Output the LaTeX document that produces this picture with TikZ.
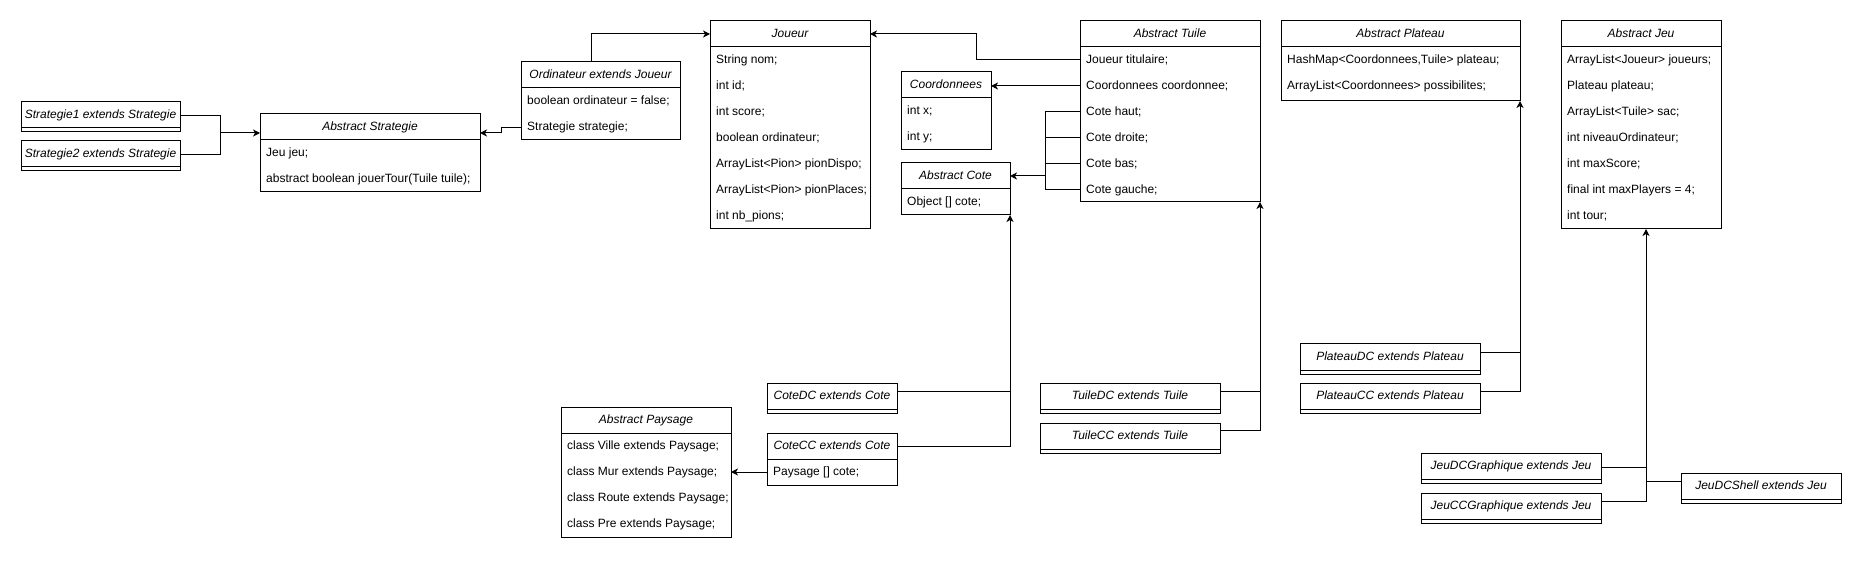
\documentclass[tikz,border=0pt]{standalone}
\usepackage{fontspec}
\setmainfont{Liberation Sans}
\usetikzlibrary{arrows.meta,calc}
\newcommand{\umlbox}[6]{%
  \node[box,minimum width=#4pt,minimum height=#5pt] (#1) at (#2,#3) {};
  \node[hdr] (#1-t) at ($(#1.north west)+(#4/2,13)$) {#6};
  \draw[line width=1pt] ($(#1.north west)+(0,26)$) -- ($(#1.north east)+(0,26)$);
}
\newcommand{\umlrow}[3]{\node[row] (#1-r#2) at ($(#1.north west)+(6,{13+26*#2})$) {#3};}
\begin{document}
\begin{tikzpicture}[x=1pt,y=-1pt,
  box/.style={draw=black,line width=1pt,anchor=north west,inner sep=0pt,outer sep=0pt},
  hdr/.style={font=\fontsize{12}{14}\selectfont\itshape,inner sep=0pt,text height=8.6pt,text depth=2.4pt},
  row/.style={font=\fontsize{12}{14}\selectfont,anchor=west,inner sep=0pt,text height=8.6pt,text depth=2.4pt},
  conn/.style={line width=1pt},
  arr/.style={line width=1pt,-{Stealth[length=7pt,width=7pt,inset=2pt]}}
]
\fill[white] (0,0) rectangle (1861,561);
\useasboundingbox (0,0) rectangle (1861,561);

% classes
\umlbox{s1}{21}{102}{159}{30}{Strategie1 extends Strategie}
\umlbox{s2}{21}{141}{159}{30}{Strategie2 extends Strategie}

\umlbox{strat}{260}{114}{220}{78}{Abstract Strategie}
\umlrow{strat}{1}{Jeu jeu;}
\umlrow{strat}{2}{abstract boolean jouerTour(Tuile tuile);}

\umlbox{ord}{521}{62}{159}{78}{Ordinateur extends Joueur}
\umlrow{ord}{1}{boolean ordinateur = false;}
\umlrow{ord}{2}{Strategie strategie;}

\umlbox{joueur}{710}{21}{160}{208}{Joueur}
\umlrow{joueur}{1}{String nom;}
\umlrow{joueur}{2}{int id;}
\umlrow{joueur}{3}{int score;}
\umlrow{joueur}{4}{boolean ordinateur;}
\umlrow{joueur}{5}{ArrayList<Pion> pionDispo;}
\umlrow{joueur}{6}{ArrayList<Pion> pionPlaces;}
\umlrow{joueur}{7}{int nb\_pions;}

\umlbox{tuile}{1080}{21}{180}{181}{Abstract Tuile}
\umlrow{tuile}{1}{Joueur titulaire;}
\umlrow{tuile}{2}{Coordonnees coordonnee;}
\umlrow{tuile}{3}{Cote haut;}
\umlrow{tuile}{4}{Cote droite;}
\umlrow{tuile}{5}{Cote bas;}
\umlrow{tuile}{6}{Cote gauche;}

\umlbox{coord}{901}{72}{90}{78}{Coordonnees}
\umlrow{coord}{1}{int x;}
\umlrow{coord}{2}{int y;}

\umlbox{cote}{901}{163}{109}{52}{Abstract Cote}
\umlrow{cote}{1}{Object [] cote;}

\umlbox{pays}{561}{407}{170}{130}{Abstract Paysage}
\umlrow{pays}{1}{class Ville extends Paysage;}
\umlrow{pays}{2}{class Mur extends Paysage;}
\umlrow{pays}{3}{class Route extends Paysage;}
\umlrow{pays}{4}{class Pre extends Paysage;}

\umlbox{cotedc}{767}{383}{130}{30}{CoteDC extends Cote}
\umlbox{cotecc}{767}{433}{130}{52}{CoteCC extends Cote}
\umlrow{cotecc}{1}{Paysage [] cote;}

\umlbox{tdc}{1040}{383}{180}{30}{TuileDC extends Tuile}
\umlbox{tcc}{1040}{423}{180}{30}{TuileCC extends Tuile}

\umlbox{plat}{1281}{21}{239}{80}{Abstract Plateau}
\umlrow{plat}{1}{HashMap<Coordonnees,Tuile> plateau;}
\umlrow{plat}{2}{ArrayList<Coordonnees> possibilites;}

\umlbox{jeu}{1561}{21}{160}{208}{Abstract Jeu}
\umlrow{jeu}{1}{ArrayList<Joueur> joueurs;}
\umlrow{jeu}{2}{Plateau plateau;}
\umlrow{jeu}{3}{ArrayList<Tuile> sac;}
\umlrow{jeu}{4}{int niveauOrdinateur;}
\umlrow{jeu}{5}{int maxScore;}
\umlrow{jeu}{6}{final int maxPlayers = 4;}
\umlrow{jeu}{7}{int tour;}

\umlbox{pdc}{1300}{344}{180}{30}{PlateauDC extends Plateau}
\umlbox{pcc}{1300}{383}{180}{30}{PlateauCC extends Plateau}

\umlbox{jdg}{1421}{453}{180}{30}{JeuDCGraphique extends Jeu}
\umlbox{jcg}{1421}{493}{180}{30}{JeuCCGraphique extends Jeu}
\umlbox{jds}{1681}{473}{160}{30}{JeuDCShell extends Jeu}

% connectors: Strategie
\coordinate (sj) at ($(strat.north west)+(-40,19)$);
\draw[arr] ($(s1.north east)+(0,14)$) -| (sj) -- ($(strat.north west)+(0,19)$);
\draw[conn] ($(s2.north east)+(0,14)$) -| (sj);

% Ordinateur -> Strategie, Ordinateur -> Joueur
\draw[arr] ($(ord.north west)+(0,66)$) -- ++(-20,0) |- ($(strat.north east)+(0,19)$);
\draw[arr] ($(ord.north west)+(70,0)$) |- ($(joueur.north west)+(0,13)$);

% Tuile -> Joueur, Coordonnees, Cote
\draw[arr] (tuile.west |- tuile-r1) -- ++(-104,0) |- ($(joueur.north east)+(0,13)$);
\draw[arr] (tuile.west |- tuile-r2) -- (coord.east |- tuile-r2);
\coordinate (cj) at ($(tuile.north west)+(-35,0)$);
\draw[conn] (tuile.west |- tuile-r3) -- (cj |- tuile-r3) -- (cj |- tuile-r6) -- (tuile.west |- tuile-r6);
\draw[conn] (tuile.west |- tuile-r4) -- (cj |- tuile-r4);
\draw[conn] (tuile.west |- tuile-r5) -- (cj |- tuile-r5);
\draw[arr] (cj |- cote-t) -- (cote.east |- cote-t);

% CoteDC / CoteCC -> Cote ; CoteCC -> Paysage
\coordinate (cdcp) at ($(cotedc.north east)+(0,8)$);
\coordinate (cccp) at ($(cotecc.north east)+(0,13)$);
\draw[arr] (cccp) -| (cote.south east);
\draw[conn] (cdcp) -- (cdcp -| cote.south east);
\draw[arr] (cotecc.west |- cotecc-r1) -- (pays.east |- cotecc-r1);

% TuileDC / TuileCC -> Tuile
\coordinate (tdcp) at ($(tdc.north east)+(0,8)$);
\coordinate (tccp) at ($(tcc.north east)+(0,7)$);
\draw[arr] (tccp) -| (tuile.south east);
\draw[conn] (tdcp) -- (tdcp -| tuile.south east);

% PlateauDC / PlateauCC -> Plateau
\coordinate (pdcp) at ($(pdc.north east)+(0,8)$);
\coordinate (pccp) at ($(pcc.north east)+(0,8)$);
\draw[arr] (pccp) -| (plat.south east);
\draw[conn] (pdcp) -- (pdcp -| plat.south east);

% Jeu subclasses -> Jeu
\coordinate (jv) at ($(jeu.south west)+(85,0)$);
\coordinate (jdgp) at ($(jdg.north east)+(0,14)$);
\coordinate (jcgp) at ($(jcg.north east)+(0,8)$);
\coordinate (jdsp) at ($(jds.north west)+(0,8)$);
\draw[arr] (jcgp) -| (jv);
\draw[conn] (jdgp) -- (jdgp -| jv);
\draw[conn] (jdsp) -- (jdsp -| jv);
\end{tikzpicture}
\end{document}
